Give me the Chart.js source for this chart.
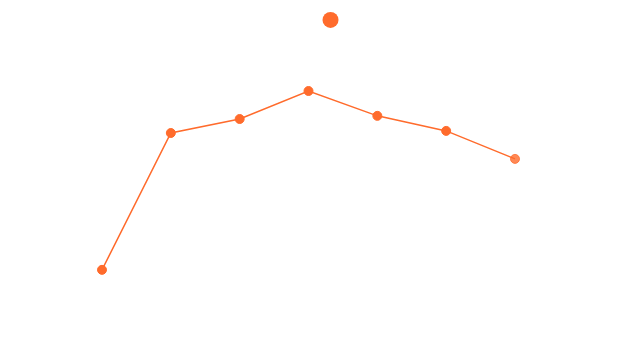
<!DOCTYPE html>
<html>
<head>
<meta charset="utf-8">
<script src="https://cdn.jsdelivr.net/npm/chart.js@4.4.1/dist/chart.umd.min.js"></script>
<style>
  html, body { margin: 0; padding: 0; background: #ffffff; }
  #wrap { width: 630px; height: 350px; }
</style>
</head>
<body>
<div id="wrap"><canvas id="chart" width="630" height="350"></canvas></div>
<script>
// Categories along the x axis
const categories = ['1', '2', '3', '4', '5', '6', '7'];
// Main series values
const seriesValues = [22.9, 62, 66, 74, 66.9, 62.6, 54.6];
// Single highlighted marker: position on the x index range and its value
const markerX = [3.32];
const markerY = [94.3];

const orange = '#ff6b2c';
const pointFills = seriesValues.map((v, i) =>
  i === seriesValues.length - 1 ? 'rgba(255,107,44,0.8)' : orange);

new Chart(document.getElementById('chart'), {
  data: {
    labels: categories,
    datasets: [
      {
        type: 'line',
        data: seriesValues,
        borderColor: orange,
        borderWidth: 1.5,
        backgroundColor: pointFills,
        pointBackgroundColor: pointFills,
        pointBorderColor: pointFills,
        pointRadius: 4.5,
        pointBorderWidth: 1,
        tension: 0,
        fill: false,
        xAxisID: 'x',
        yAxisID: 'y'
      },
      {
        type: 'scatter',
        data: markerX.map((x, i) => ({ x: x, y: markerY[i] })),
        backgroundColor: orange,
        borderColor: orange,
        pointRadius: 8,
        pointBorderWidth: 0,
        xAxisID: 'x2',
        yAxisID: 'y',
        clip: false
      }
    ]
  },
  options: {
    responsive: false,
    animation: false,
    layout: { autoPadding: false, padding: { left: 102, right: 115, top: 0, bottom: 0 } },
    plugins: {
      legend: { display: false },
      tooltip: { enabled: false }
    },
    scales: {
      x: { type: 'category', display: false, offset: false },
      x2: { type: 'linear', display: false, min: 0, max: 6 },
      y: { type: 'linear', display: false, min: 0, max: 100 }
    }
  }
});
</script>
</body>
</html>
